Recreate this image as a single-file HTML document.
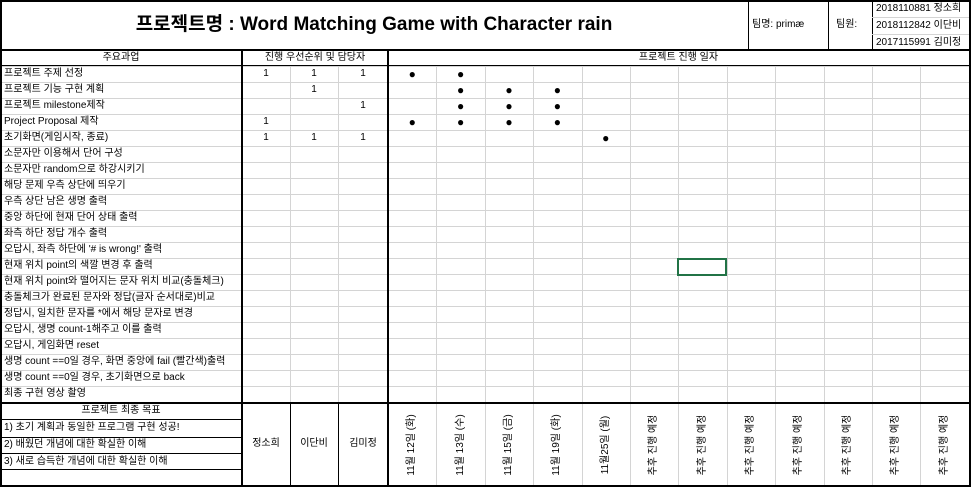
<!DOCTYPE html>
<html><head><meta charset="utf-8">
<style>
body{margin:0;background:#fff;}
#s{position:relative;width:973px;height:488px;overflow:hidden;background:#fff;font-family:"Liberation Sans","Noto Sans CJK KR",sans-serif;font-size:10px;color:#000;}
.l{position:absolute;background:#d4d4d4;}
.k{position:absolute;background:#000;}
.t{position:absolute;white-space:nowrap;line-height:16px;}
.v{position:absolute;white-space:nowrap;transform:rotate(-90deg);transform-origin:center;font-size:10px;}
</style></head><body>
<div id="s"></div>
<script>
const tasks=["프로젝트 주제 선정","프로젝트 기능 구현 계획","프로젝트 milestone제작","Project Proposal 제작","초기화면(게임시작, 종료)","소문자만 이용해서 단어 구성","소문자만 random으로 하강시키기","해당 문제 우측 상단에 띄우기","우측 상단 남은 생명 출력","중앙 하단에 현재 단어 상태 출력","좌측 하단 정답 개수 출력","오답시, 좌측 하단에 '# is wrong!' 출력","현재 위치 point의 색깔 변경 후 출력","현재 위치 point와 떨어지는 문자 위치 비교(충돌체크)","충돌체크가 완료된 문자와 정답(글자 순서대로)비교","정답시, 일치한 문자를 *에서 해당 문자로 변경","오답시, 생명 count-1해주고 이를 출력","오답시, 게임화면 reset","생명 count ==0일 경우, 화면 중앙에 fail (빨간색)출력","생명 count ==0일 경우, 초기화면으로 back","최종 구현 영상 촬영"];
const priority=[[1,1,1],[0,1,0],[0,0,1],[1,0,0],[1,1,1]];
const dots=[[0,1],[1,2,3],[1,2,3],[0,1,2,3],[4]];
const dates=["11월 12일 (화)","11월 13일 (수)","11월 15일 (금)","11월 19일 (화)","11월25일 (월)","추후 진행 예정","추후 진행 예정","추후 진행 예정","추후 진행 예정","추후 진행 예정","추후 진행 예정","추후 진행 예정"];
const members=["정소희","이단비","김미정"];
const goals=["1) 초기 계획과 동일한 프로그램 구현 성공!","2) 배웠던 개념에 대한 확실한 이해","3) 새로 습득한 개념에 대한 확실한 이해"];
const S=document.getElementById('s');
function el(c,x,y,w,h,txt,name){const d=document.createElement('div');d.className=c;d.style.left=x+'px';d.style.top=y+'px';if(w!=null)d.style.width=w+'px';if(h!=null)d.style.height=h+'px';if(txt!=null)d.textContent=txt;


S.appendChild(d);return d;}
const R0=66,RH=16,NR=tasks.length,RB=R0+NR*RH;
const DX=388,DW=48.4,ND=12;
const colX=[242,290,338,388];
for(let i=0;i<=NR;i++)el('l',0,R0+i*RH,969,1);
for(let j=1;j<ND;j++){el('l',DX+j*DW,66,1,420);}
el('l',290,66,1,336);el('l',338,66,1,336);
el('k',748,0,1,50);el('k',828,0,1,50);el('k',872,0,1,50);
el('l',872,17,97,1);el('l',872,34,97,1);
el('k',0,0,971,2);el('k',0,485,971,2);el('k',0,0,2,487);el('k',969,0,2,487);
el('k',0,49,971,2);el('k',0,65,971,1);
el('k',241,50,2,437);el('k',387,50,2,437);
el('k',0,402,971,2);
el('k',0,419,242,1);el('k',0,437,242,1);el('k',0,453,242,1);el('k',0,469,242,1);
el('k',290,404,1,82);el('k',338,404,1,82);
let t=el('t',0,14,748,22,'프로젝트명 : Word Matching Game with Character rain','project-title');t.style.fontSize='19px';t.style.fontWeight='bold';t.style.textAlign='center';t.style.lineHeight='22px';
el('t',752,17,76,16,'팀명: primæ','team-name');
el('t',836,17,36,16,'팀원:','team-members-label');
['2018110881 정소희','2018112842 이단비','2017115991 김미정'].forEach((s,i)=>el('t',876,i*17+1,96,17,s,'team-member-'+(i+1)));
t=el('t',0,50,242,16,'주요과업','tasks-header');t.style.textAlign='center';
t=el('t',242,50,146,16,'진행 우선순위 및 담당자','priority-header');t.style.textAlign='center';
t=el('t',388,50,581,16,'프로젝트 진행 일자','dates-header');t.style.textAlign='center';
tasks.forEach((s,i)=>el('t',4,R0+i*RH,238,16,s,'task-'+(i+1)));
priority.forEach((r,i)=>r.forEach((v,j)=>{if(v){const c=el('t',colX[j],R0+i*RH,colX[j+1]-colX[j],16,String(v),'priority-cell');c.style.textAlign='center';}}));
dots.forEach((r,i)=>r.forEach(j=>{const c=el('t',DX+j*DW,R0+i*RH,DW,16,'●','progress-dot');c.style.textAlign='center';c.style.fontSize='12px';}));
t=el('t',0,403,242,16,'프로젝트 최종 목표','goals-header');t.style.textAlign='center';
goals.forEach((g,i)=>el('t',4,420+i*17,238,16,g,'goal-'+(i+1)));
members.forEach((m,i)=>{const c=el('t',colX[i],436,colX[i+1]-colX[i],16,m,'member-'+(i+1));c.style.textAlign='center';});
dates.forEach((d,j)=>{const c=el('v',DX+j*DW+DW/2-40,437,80,16,d,'date-label-'+(j+1));c.style.textAlign='center';c.style.lineHeight='16px';});
const sel=el('k',DX+6*DW-1,258,50,18,null,'selected-cell');sel.style.background='transparent';sel.style.border='2px solid #217346';sel.style.boxSizing='border-box';

</script>
</body></html>
